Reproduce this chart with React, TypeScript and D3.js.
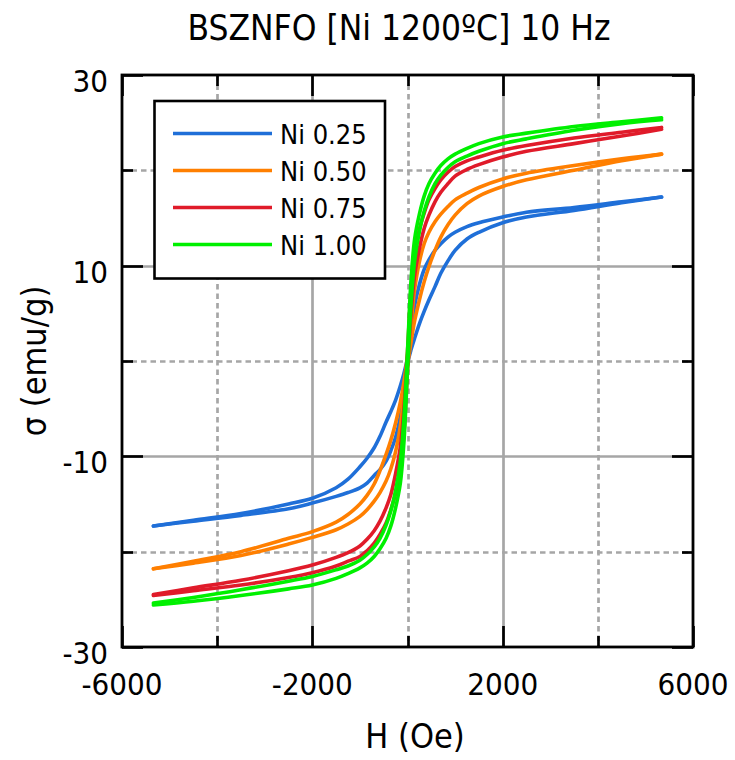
import React from "react";
import * as d3 from "d3";

// ---- Data ----
const TITLE = "BSZNFO [Ni 1200ºC] 10 Hz";
const X_LABEL = "H (Oe)";
const Y_LABEL = "σ (emu/g)";
const SERIES = ["Ni 0.25", "Ni 0.50", "Ni 0.75", "Ni 1.00"];
const COLORS = ["#1f6fd8", "#ff7f00", "#e01b2a", "#00f000"];
const X_TICK_LABELS = [-6000, -2000, 2000, 6000];
const X_MINOR = [-4000, 0, 4000];
const Y_TICK_LABELS = [-30, -10, 10, 30];
const Y_MINOR = [-20, 0, 20];

// Field grid (Oe), shared by every branch
const H_GRID = [-5340, -4500, -3500, -2500, -2000, -1500, -1250, -1000, -850, -700, -578, -450, -350, -250, -150, -75, 0, 75, 150, 250, 350, 450, 578, 700, 850, 1000, 1250, 1500, 2000, 2500, 3500, 4500, 5340];

// Descending (upper) branches
const BLUE_DESC = [-17.3, -16.7, -16.0, -15.0, -14.4, -13.3, -12.4, -11.1, -10.2, -9.1, -7.9, -6.4, -5.3, -4.1, -2.6, -1.3, 0.3, 3.0, 5.8, 8.0, 9.6, 10.6, 11.6, 12.3, 13.0, 13.5, 14.1, 14.5, 15.1, 15.6, 16.1, 16.7, 17.2];
const ORANGE_DESC = [-21.8, -21.0, -20.0, -18.6, -17.9, -16.9, -16.1, -15.0, -14.1, -12.9, -11.5, -9.8, -8.3, -6.5, -4.3, -2.2, 0.5, 4.0, 7.5, 10.4, 12.3, 13.5, 14.6, 15.4, 16.2, 16.9, 17.6, 18.2, 19.1, 19.7, 20.5, 21.2, 21.7];
const RED_DESC = [-24.5, -23.8, -23.0, -22.0, -21.4, -20.6, -20.1, -19.4, -18.7, -17.8, -16.8, -15.4, -14.0, -11.8, -9.0, -5.0, 1.0, 7.5, 11.3, 13.8, 15.5, 16.9, 18.1, 19.0, 19.8, 20.4, 21.0, 21.4, 22.1, 22.6, 23.4, 24.0, 24.5];
const GREEN_DESC = [-25.4, -24.8, -24.0, -23.1, -22.6, -21.9, -21.5, -20.9, -20.3, -19.5, -18.6, -17.2, -15.7, -13.6, -10.5, -6.0, 1.0, 8.5, 12.8, 15.4, 17.3, 18.6, 19.7, 20.5, 21.2, 21.7, 22.3, 22.8, 23.5, 23.9, 24.6, 25.1, 25.5];

// Ascending (lower) branches
const BLUE_ASC = [-17.3, -16.8, -16.2, -15.5, -14.9, -14.2, -13.8, -13.3, -12.8, -12.0, -11.4, -10.5, -9.4, -8.0, -5.8, -3.0, -0.3, 1.2, 2.4, 3.9, 5.2, 6.4, 7.8, 9.2, 10.5, 11.6, 12.8, 13.5, 14.5, 15.1, 15.8, 16.6, 17.2];
const ORANGE_ASC = [-21.8, -21.2, -20.4, -19.2, -18.5, -17.7, -17.1, -16.3, -15.6, -14.7, -13.8, -12.6, -11.3, -9.5, -6.8, -3.6, -0.5, 2.0, 4.2, 6.4, 8.3, 9.9, 11.6, 13.0, 14.3, 15.3, 16.5, 17.3, 18.3, 19.0, 20.0, 21.0, 21.7];
const RED_ASC = [-24.6, -24.1, -23.5, -22.7, -22.2, -21.5, -21.0, -20.5, -19.9, -19.1, -18.2, -17.0, -15.6, -13.9, -11.4, -7.6, -1.0, 5.0, 9.0, 11.8, 13.9, 15.3, 16.7, 17.7, 18.6, 19.4, 20.1, 20.6, 21.4, 22.0, 22.8, 23.6, 24.3];
const GREEN_ASC = [-25.6, -25.2, -24.6, -23.9, -23.5, -22.8, -22.3, -21.7, -21.2, -20.5, -19.7, -18.6, -17.3, -15.4, -12.8, -8.5, -1.0, 6.0, 10.5, 13.6, 15.7, 17.2, 18.6, 19.5, 20.3, 20.9, 21.5, 22.0, 22.8, 23.3, 24.2, 24.9, 25.3];

const BRANCHES = [
  [BLUE_DESC, BLUE_ASC],
  [ORANGE_DESC, ORANGE_ASC],
  [RED_DESC, RED_ASC],
  [GREEN_DESC, GREEN_ASC],
];

const W = 735;
const H = 760;
const M = { left: 122, right: 42, top: 75, bottom: 113 };
const FONT = "'DejaVu Sans Condensed', 'DejaVu Sans', sans-serif";

export default function App() {
  const x = d3.scaleLinear().domain([-6000, 6000]).range([M.left, W - M.right]);
  const y = d3.scaleLinear().domain([-30, 30]).range([H - M.bottom, M.top]);
  const x0 = M.left, x1 = W - M.right, y0 = M.top, y1 = H - M.bottom;

  const line = d3
    .line<[number, number]>()
    .x((d) => x(d[0]))
    .y((d) => y(d[1]))
    .curve(d3.curveCatmullRom.alpha(0.5));

  const grid = "#a6a6a6";
  const gw = 2.7;
  const r = (v: number) => Math.round(v) + 0.5;

  return (
    <svg
      width={W}
      height={H}
      style={{ position: "absolute", left: 0, top: 0, background: "#fff" }}
      fontFamily={FONT}
    >
      <rect x={0} y={0} width={W} height={H} fill="#fff" />
      <defs>
        <clipPath id="clip">
          <rect x={x0} y={y0} width={x1 - x0} height={y1 - y0} />
        </clipPath>
      </defs>
      {/* grid */}
      {X_TICK_LABELS.filter((v) => v > -6000 && v < 6000).map((v) => (
        <line key={"gx" + v} x1={r(x(v))} x2={r(x(v))} y1={y0} y2={y1} stroke={grid} strokeWidth={gw} />
      ))}
      {X_MINOR.map((v) => (
        <line key={"gxm" + v} x1={r(x(v))} x2={r(x(v))} y1={y0} y2={y1} stroke={grid} strokeWidth={gw} strokeDasharray="5.5,4" />
      ))}
      {Y_TICK_LABELS.filter((v) => v > -30 && v < 30).map((v) => (
        <line key={"gy" + v} x1={x0} x2={x1} y1={r(y(v))} y2={r(y(v))} stroke={grid} strokeWidth={gw} />
      ))}
      {Y_MINOR.map((v) => (
        <line key={"gym" + v} x1={x0} x2={x1} y1={r(y(v))} y2={r(y(v))} stroke={grid} strokeWidth={gw} strokeDasharray="5.5,4" />
      ))}
      {/* ticks */}
      {X_TICK_LABELS.map((v) => (
        <g key={"tx" + v}>
          <line x1={r(x(v))} x2={r(x(v))} y1={y1} y2={y1 - 21} stroke="#000" strokeWidth={2.7} />
          <line x1={r(x(v))} x2={r(x(v))} y1={y0} y2={y0 + 21} stroke="#000" strokeWidth={2.7} />
        </g>
      ))}
      {X_MINOR.map((v) => (
        <g key={"txm" + v}>
          <line x1={r(x(v))} x2={r(x(v))} y1={y1} y2={y1 - 11} stroke="#000" strokeWidth={2.7} />
          <line x1={r(x(v))} x2={r(x(v))} y1={y0} y2={y0 + 11} stroke="#000" strokeWidth={2.7} />
        </g>
      ))}
      {Y_TICK_LABELS.map((v) => (
        <g key={"ty" + v}>
          <line x1={x0} x2={x0 + 21} y1={r(y(v))} y2={r(y(v))} stroke="#000" strokeWidth={2.7} />
          <line x1={x1} x2={x1 - 21} y1={r(y(v))} y2={r(y(v))} stroke="#000" strokeWidth={2.7} />
        </g>
      ))}
      {Y_MINOR.map((v) => (
        <g key={"tym" + v}>
          <line x1={x0} x2={x0 + 11} y1={r(y(v))} y2={r(y(v))} stroke="#000" strokeWidth={2.7} />
          <line x1={x1} x2={x1 - 11} y1={r(y(v))} y2={r(y(v))} stroke="#000" strokeWidth={2.7} />
        </g>
      ))}
      {/* curves */}
      <g clipPath="url(#clip)">
        {BRANCHES.map((br, i) =>
          br.map((vals, j) => (
            <path
              key={"c" + i + "-" + j}
              d={line(H_GRID.map((h, k) => [h, vals[k]] as [number, number])) || ""}
              fill="none"
              stroke={COLORS[i]}
              strokeWidth={3.6}
              strokeLinejoin="round"
              strokeLinecap="round"
            />
          ))
        )}
      </g>
      {/* frame */}
      <rect x={x0} y={y0} width={x1 - x0} height={y1 - y0} fill="none" stroke="#000" strokeWidth={2.8} />
      {/* tick labels */}
      {X_TICK_LABELS.map((v) => (
        <text key={"lx" + v} x={x(v)} y={y1 + 48} textAnchor="middle" fontSize={31} fill="#000">
          {v}
        </text>
      ))}
      {Y_TICK_LABELS.map((v) => (
        <text key={"ly" + v} x={x0 - 14} y={y(v) + 17} textAnchor="end" fontSize={31} fill="#000">
          {v}
        </text>
      ))}
      {/* titles */}
      <text x={399} y={40} textAnchor="middle" fontSize={35} fill="#000">
        {TITLE}
      </text>
      <text x={415} y={748} textAnchor="middle" fontSize={34} fill="#000">
        {X_LABEL}
      </text>
      <text transform={`translate(46,${y(0)}) rotate(-90)`} textAnchor="middle" fontSize={34} fill="#000">
        {Y_LABEL}
      </text>
      {/* legend */}
      <rect x={154.5} y={101} width={230.5} height={177.5} fill="#fff" stroke="#000" strokeWidth={2.6} />
      {SERIES.map((s, i) => (
        <g key={"lg" + i}>
          <line x1={173} x2={272} y1={133.5 + i * 37} y2={133.5 + i * 37} stroke={COLORS[i]} strokeWidth={3.6} />
          <text x={280} y={133.5 + i * 37 + 10} fontSize={27} fill="#000">
            {s}
          </text>
        </g>
      ))}
    </svg>
  );
}
